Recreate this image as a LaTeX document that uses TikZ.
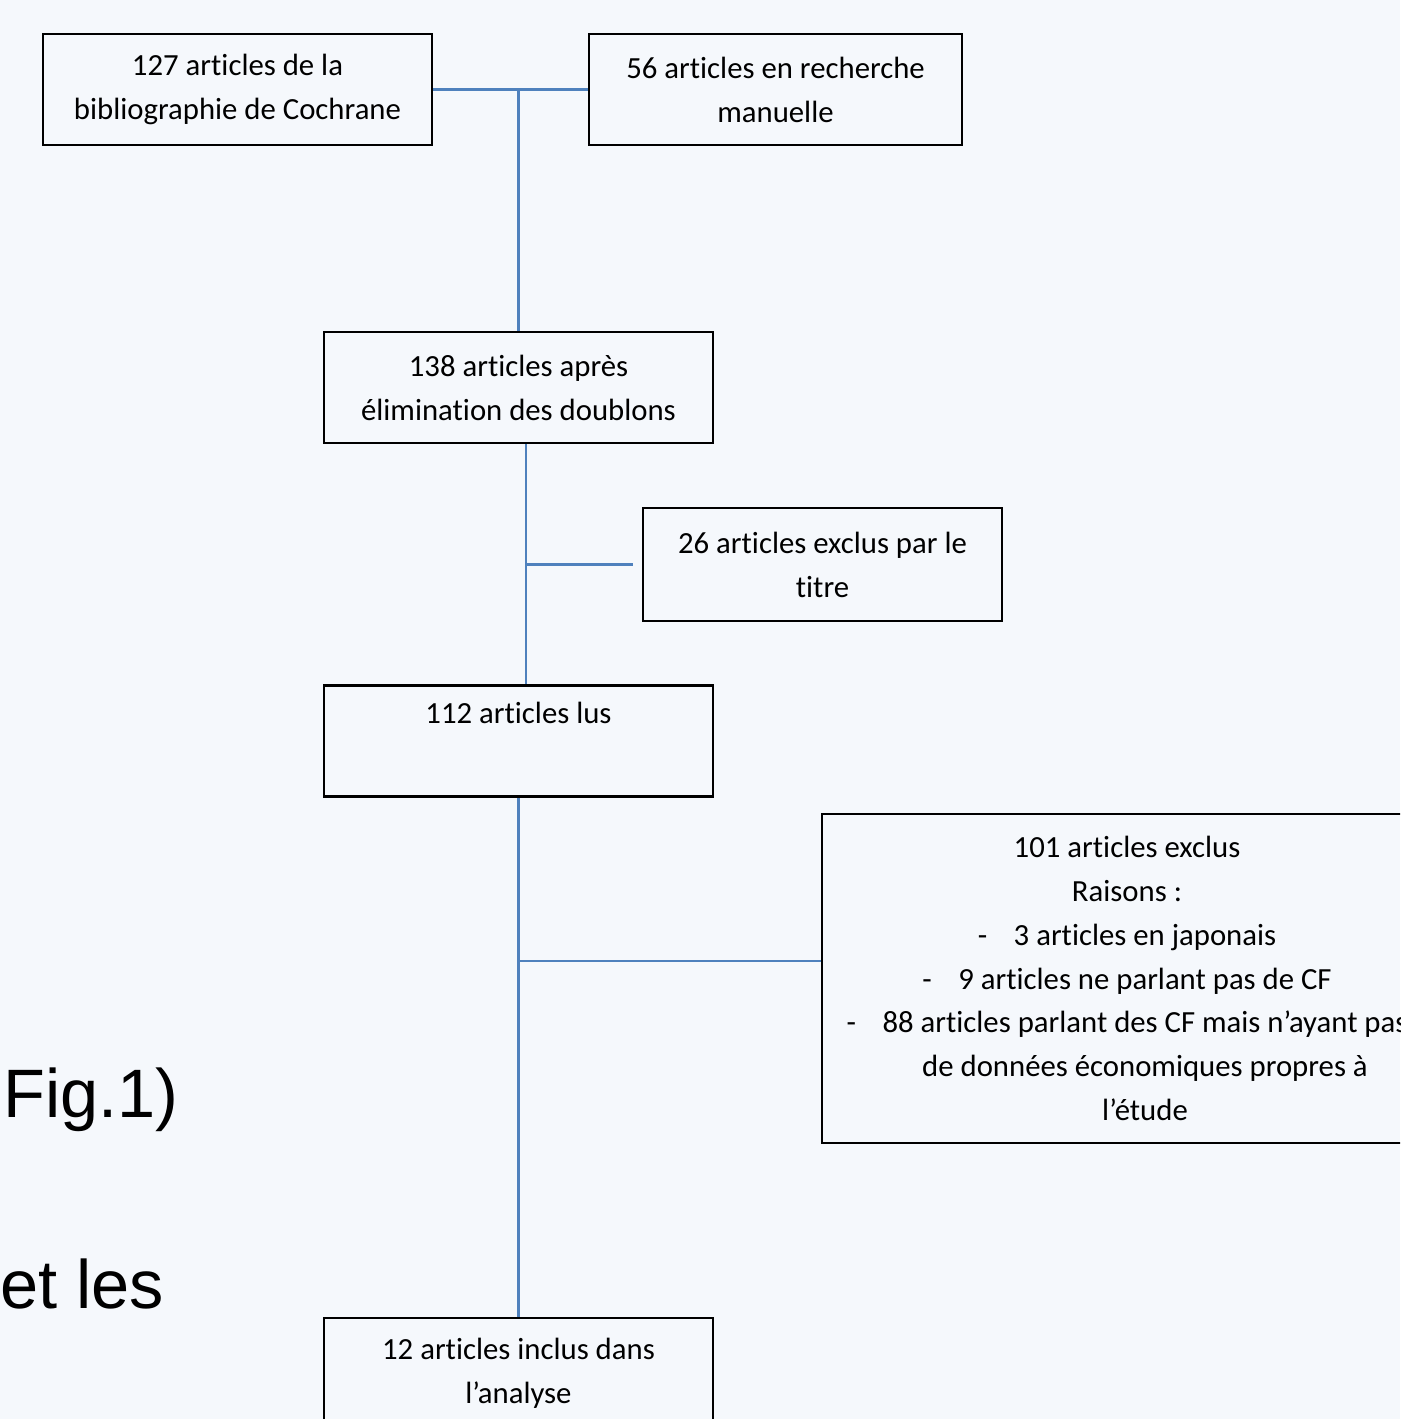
\documentclass[tikz,border=0pt]{standalone}
\usepackage{fontspec}
\setmainfont{Carlito}[RawFeature=-liga]
\newfontfamily\arialfont{Liberation Sans}
\usepackage{xcolor}
\usetikzlibrary{positioning, calc}
\definecolor{pagebg}{HTML}{F5F8FC}
\definecolor{linkblue}{HTML}{4F81BD}

\begin{document}
\begin{tikzpicture}[
    x=0.02cm, y=-0.02cm,
    box/.style={rectangle, draw=black, line width=1.5pt, align=center, inner sep=0pt,
                font=\fontsize{17.5}{25}\selectfont, minimum width=7.78cm, minimum height=2.22cm},
    link/.style={draw=linkblue, line width=1.5pt},
    bigtext/.style={anchor=base west, inner sep=0pt, font=\arialfont\fontsize{39}{44}\selectfont}
]

% Page
\path[use as bounding box, fill=pagebg] (0,0) rectangle (1400,1419);
\clip (0,0) rectangle (1400,1419);

% Text of the page behind the chart
\node[bigtext] (figlabel) at (3,1117) {Fig.1)};
\node[bigtext] (etles) at (0,1308) {et les};

% Sources
\node[box] (cochrane) at (237.5,89.5) {127 articles de la\\bibliographie de Cochrane};
\node[box, minimum width=7.46cm] (manual) at (775.5,89.5) {56 articles en recherche\\manuelle};

% Screening
\node[box] (dedup) at (518.5,387.5) {138 articles après\\élimination des doublons};
\node[box, minimum width=7.18cm, minimum height=2.26cm] (titleexcl) at (822.5,564.5) {26 articles exclus par le\\titre};
\node[box] (read) at (518.5,741) {112 articles lus\\\strut};

% Exclusions after reading
\node[box, minimum width=12.2cm, minimum height=6.58cm] (fullexcl) at (1127,978.5) {101 articles exclus\\
    Raisons :\\
    \makebox[0.72cm][l]{-}3 articles en japonais\\
    \makebox[0.72cm][l]{-}9 articles ne parlant pas de CF\\
    \makebox[0.72cm][l]{-}88 articles parlant des CF mais n’ayant pas\\
    \hspace*{0.72cm}de données économiques propres à\\
    \hspace*{0.72cm}l’étude};

% Result
\node[box] (included) at (518.5,1373.5) {12 articles inclus dans\\l’analyse};

% Connectors
\coordinate (titlejoin) at ([xshift=-0.18cm]titleexcl.west);
\coordinate (fulljoin) at ([yshift=0.35cm]fullexcl.west);

\draw[link] (cochrane.east) -- (manual.west);
\draw[link] (dedup.north |- cochrane.east) -- (dedup.north);
\draw[link] ([xshift=0.15cm]dedup.south) -- ([xshift=0.15cm]read.north);
\draw[link] ([xshift=0.15cm]dedup.south |- titlejoin) -- (titlejoin);
\draw[link] (read.south) -- (included.north);
\draw[link] (read.south |- fulljoin) -- (fulljoin);

\end{tikzpicture}
\end{document}
